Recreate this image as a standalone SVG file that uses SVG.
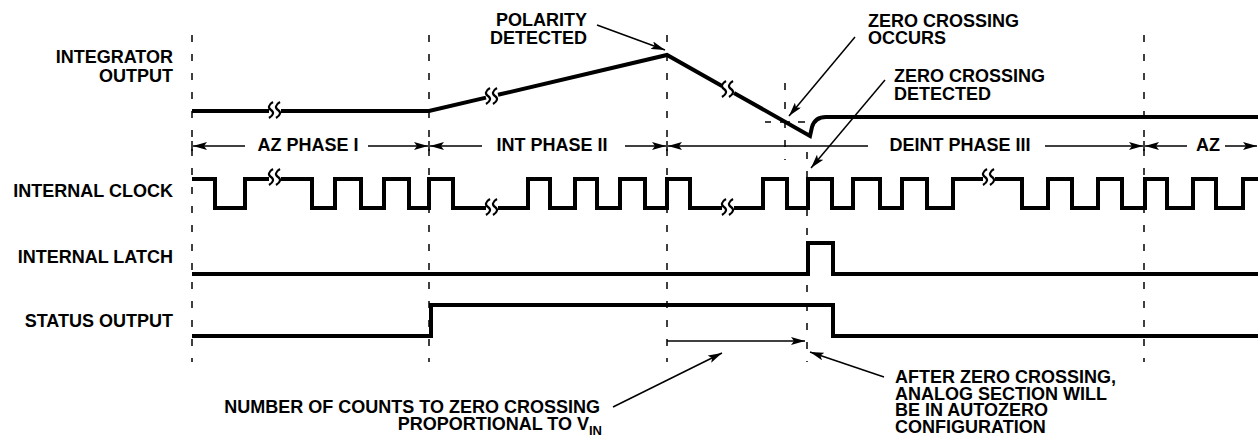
<svg xmlns="http://www.w3.org/2000/svg" width="1258" height="438" viewBox="0 0 1258 438">
<style>
text{font-family:"Liberation Sans",Arial,sans-serif;font-weight:bold;font-size:18px;fill:#000}
.lbl{text-anchor:end}
.wave{fill:none;stroke:#000;stroke-width:4;stroke-linejoin:miter;stroke-linecap:butt}
.dash{fill:none;stroke:#000;stroke-width:1.5;stroke-dasharray:7 12}
.thin{fill:none;stroke:#000;stroke-width:1.5}
.arr{fill:none;stroke:#000;stroke-width:1.5;marker-end:url(#ah)}
.sq{fill:none;stroke:#000;stroke-width:2.2}
</style>
<defs>
<marker id="ah" viewBox="0 0 14 8" refX="14" refY="4" markerWidth="14" markerHeight="8" markerUnits="userSpaceOnUse" orient="auto">
<path d="M14,4 L0,0 L3,4 L0,8 Z" fill="#000"/>
</marker>
<path id="sq" d="M-1,-8 C-6,-5 -6,-2 -3,0 S0,5 -5,8 M6,-8 C1,-5 1,-2 4,0 S7,5 2,8"/>
</defs>

<g id="labels">
<text class="lbl" x="173" y="63">INTEGRATOR</text>
<text class="lbl" x="173" y="82">OUTPUT</text>
<text class="lbl" x="173" y="197">INTERNAL CLOCK</text>
<text class="lbl" x="173" y="263">INTERNAL LATCH</text>
<text class="lbl" x="173" y="327">STATUS OUTPUT</text>
</g>

<g id="gridlines">
<line class="dash" x1="192" y1="35" x2="192" y2="362"/>
<line class="dash" x1="429" y1="35" x2="429" y2="362"/>
<line class="dash" x1="667" y1="35" x2="667" y2="362"/>
<line class="dash" x1="1144" y1="35" x2="1144" y2="362"/>
<line class="dash" x1="807" y1="152" x2="807" y2="362"/>
<line class="dash" x1="785" y1="83" x2="785" y2="160"/>
<line class="thin" x1="765" y1="122" x2="771" y2="122"/>
<line class="thin" x1="780" y1="122" x2="790" y2="122"/>
<line class="thin" x1="798" y1="122" x2="805" y2="122"/>
</g>

<g id="integrator-output">
<path class="wave" d="M192,111 H269 M281,111 H429 L486,97.6 M498,94.8 L667,55 L722,86.1 M734,92.9 L810,136 L812,127 Q815,117 826,117 H1258"/>
<use href="#sq" class="sq" x="274" y="110"/>
<use href="#sq" class="sq" x="491" y="96"/>
<use href="#sq" class="sq" x="727" y="89"/>
</g>

<g id="phases">
<line class="thin" x1="192" y1="141" x2="192" y2="151"/>
<line class="thin" x1="429" y1="141" x2="429" y2="151"/>
<line class="thin" x1="667" y1="141" x2="667" y2="151"/>
<line class="thin" x1="1144" y1="141" x2="1144" y2="151"/>
<line class="arr" x1="245" y1="146" x2="193" y2="146"/>
<text x="308" y="150.5" text-anchor="middle">AZ PHASE I</text>
<line class="arr" x1="368" y1="146" x2="428" y2="146"/>
<line class="arr" x1="482" y1="146" x2="430" y2="146"/>
<text x="552" y="150.5" text-anchor="middle">INT PHASE II</text>
<line class="arr" x1="625" y1="146" x2="666" y2="146"/>
<line class="arr" x1="868" y1="146" x2="668" y2="146"/>
<text x="960" y="150.5" text-anchor="middle">DEINT PHASE III</text>
<line class="arr" x1="1045" y1="146" x2="1143" y2="146"/>
<line class="arr" x1="1187" y1="146" x2="1145" y2="146"/>
<text x="1208" y="150.5" text-anchor="middle">AZ</text>
<line class="arr" x1="1225" y1="146" x2="1257" y2="146"/>
</g>

<g id="internal-clock">
<path class="wave" d="M192,179 H215 V208 H245 V179 H269 M281,179 H312 V208 H335 V179 H361 V208 H384 V179 H409 V208 H429 V179 H453 V208 H486 M498,208 H528 V179 H550 V208 H575 V179 H597 V208 H620 V179 H645 V208 H667 V179 H690 V208 H722 M734,208 H763 V179 H787 V208 H808 V179 H832 V208 H853 V179 H880 V208 H902 V179 H927 V208 H953 V179 H983 M995,179 H1022 V208 H1048 V179 H1072 V208 H1098 V179 H1122 V208 H1145 V179 H1167 V208 H1193 V179 H1216 V208 H1243 V179 H1258"/>
<use href="#sq" class="sq" x="274" y="177"/>
<use href="#sq" class="sq" x="491" y="207"/>
<use href="#sq" class="sq" x="727" y="207"/>
<use href="#sq" class="sq" x="988" y="177"/>
</g>

<g id="internal-latch">
<path class="wave" d="M192,274 H808 V243 H833 V274 H1258"/>
</g>

<g id="status-output">
<path class="wave" d="M192,336 H431 V305 H833 V336 H1258"/>
</g>

<g id="annotations">
<text class="lbl" x="587" y="26">POLARITY</text>
<text class="lbl" x="587" y="44">DETECTED</text>
<text x="868" y="27">ZERO CROSSING</text>
<text x="868" y="44">OCCURS</text>
<text x="894" y="82">ZERO CROSSING</text>
<text x="894" y="100">DETECTED</text>
<text x="895" y="383">AFTER ZERO CROSSING,</text>
<text x="895" y="400">ANALOG SECTION WILL</text>
<text x="895" y="416">BE IN AUTOZERO</text>
<text x="895" y="433">CONFIGURATION</text>
<text class="lbl" x="600" y="413">NUMBER OF COUNTS TO ZERO CROSSING</text>
<text class="lbl" x="602" y="430">PROPORTIONAL TO V<tspan font-size="13" dy="5">IN</tspan></text>
</g>

<g id="connectors">
<line class="arr" x1="597" y1="25" x2="665" y2="50"/>
<line class="arr" x1="855" y1="37" x2="789" y2="116"/>
<line class="arr" x1="885" y1="80" x2="811" y2="168"/>
<line class="arr" x1="667" y1="341" x2="805" y2="341"/>
<line class="arr" x1="613" y1="407" x2="722" y2="353"/>
<line class="arr" x1="884" y1="377" x2="810" y2="352"/>
</g>
</svg>
